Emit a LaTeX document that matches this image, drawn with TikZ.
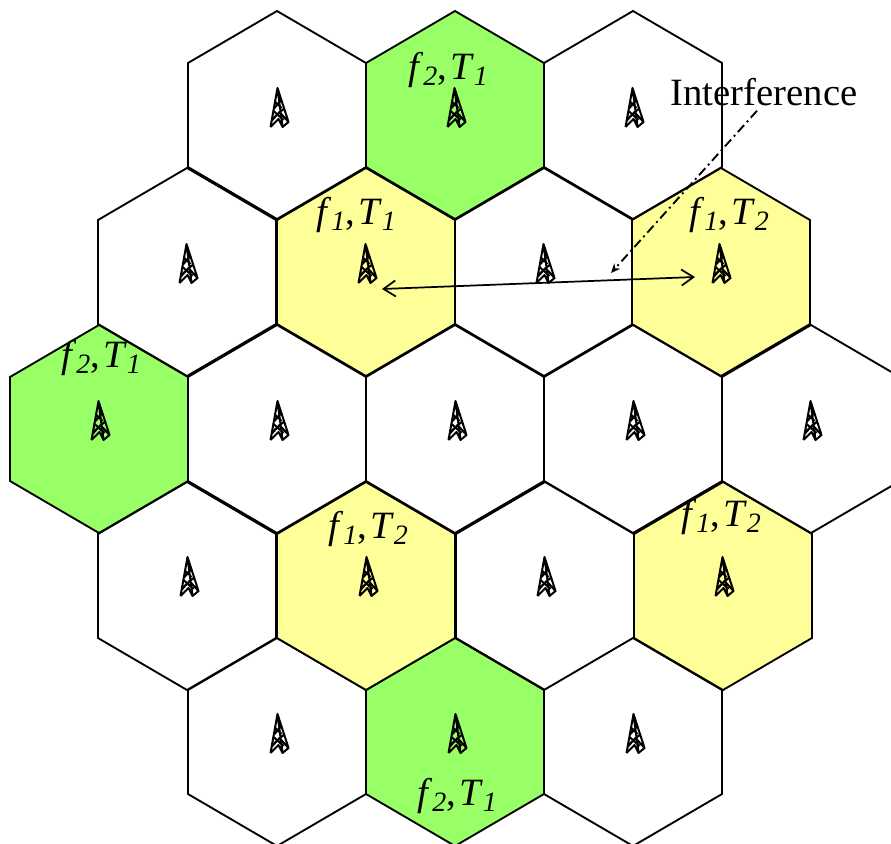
\documentclass[tikz,border=0pt]{standalone}
\usepackage{fontspec}
\setmainfont{Liberation Serif}
\usepackage{tikz}
\usetikzlibrary{arrows.meta, calc}
\definecolor{cellgreen}{HTML}{99FF66}
\definecolor{cellyellow}{HTML}{FFFF99}
\newcommand{\chlabel}[2]{\textit{f}\raisebox{-0.32ex}{\fontsize{21}{21}\selectfont\textit{#1}},\kern0.08em\textit{T}\raisebox{-0.32ex}{\fontsize{21}{21}\selectfont\textit{#2}}}
\tikzset{
  cell/.pic      = {\draw[pic actions] (0,-104) -- (89,-52) -- (89,52) -- (0,104) -- (-89,52) -- (-89,-52) -- cycle;},
  tower/.pic     = {
    \draw[line width=1.5pt, line join=round, xshift=-1.5*0.75pt]
      (-7,39) -- (0,0) -- (5,39) (0,0) -- (11,34)
      (-7,39) -- (1,31) -- (5,39) -- (11,34) -- (2,24) -- (-6,33)
      (-4,23) -- (6,32) (6,21) -- (-3,29) (-2,14) -- (4,20) (3,13) -- (-3,20);},
  chan/.style    = {font=\fontsize{29}{29}\selectfont, inner sep=0pt},
  note/.style    = {font=\fontsize{29}{29}\selectfont, inner sep=3pt},
  link/.style    = {{Straight Barb[length=9pt,width=12pt]}-{Straight Barb[length=9pt,width=12pt]}, line width=1.3pt},
  leader/.style  = {-{Stealth[length=7pt,width=6pt]}, line width=1.4pt, dash pattern=on 7pt off 3pt on 1.5pt off 3pt},
}
\begin{document}
\begin{tikzpicture}[x=0.75pt, y=-0.75pt, line width=1.4pt]
  \useasboundingbox (0,0) rectangle (891,843);
  \clip (0,0) rectangle (891,843);

  % plain cells
  \foreach \x/\y in {277/115, 633/115,
                     187/272, 544/272,
                     277/429, 455/429, 633/429, 811/429,
                     187/586, 545/586,
                     277/742, 633/742}
    \pic[fill=white] at (\x,\y) {cell};

  % coloured cells
  \foreach \x/\y in {455/115, 99/429, 455/742}
    \pic[fill=cellgreen] at (\x,\y) {cell};
  \foreach \x/\y in {366/272, 721/272, 366/586, 723/586}
    \pic[fill=cellyellow] at (\x,\y) {cell};

  % towers
  \foreach \x/\y in {279/88, 456/88, 634/88,
                     188/244, 367/244, 545/244, 721/244,
                     100/401, 279/401, 457/401, 635/401, 812/401,
                     189/557, 368/557, 546/557, 724/557,
                     279/714, 457/714, 635/714}
    \pic at (\x,\y) {tower};

  % channel labels
  \node[chan] (la) at (448,70)  {\chlabel{2}{1}};
  \node[chan] (lb) at (356,215) {\chlabel{1}{1}};
  \node[chan] (lc) at (729,215) {\chlabel{1}{2}};
  \node[chan] (ld) at (101,358) {\chlabel{2}{1}};
  \node[chan] (le) at (368,529) {\chlabel{1}{2}};
  \node[chan] (lf) at (721,517) {\chlabel{1}{2}};
  \node[chan] (lg) at (457,796) {\chlabel{2}{1}};

  % interference
  \node[note] (lint) at (764,92) {Interference};
  \coordinate (linka) at (382,289);
  \coordinate (linkb) at (695,277);
  \coordinate (hit) at (611,273);
  \draw[link] (linka) -- (linkb);
  \draw[leader] ($(lint.south)+(-7,0)$) -- (hit);

\end{tikzpicture}
\end{document}
